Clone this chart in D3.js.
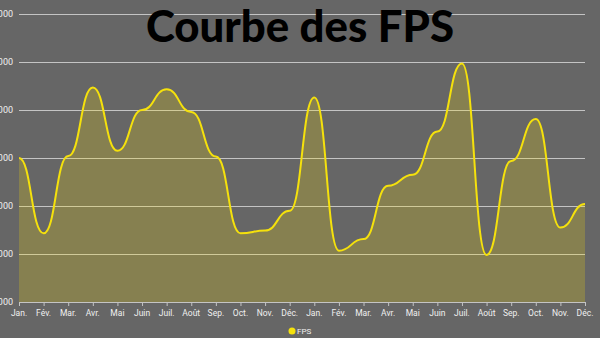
<!DOCTYPE html>
<html>
<head>
<meta charset="utf-8">
<script src="https://cdn.jsdelivr.net/npm/d3@7"></script>
<style>
  html, body { margin: 0; padding: 0; background: #666666; }
  svg { display: block; }
</style>
</head>
<body>
<svg id="chart" width="600" height="338"></svg>
<script>
const months = ["Jan.", "Fév.", "Mar.", "Avr.", "Mai", "Juin", "Juil.", "Août", "Sep.", "Oct.", "Nov.", "Déc.",
                "Jan.", "Fév.", "Mar.", "Avr.", "Mai", "Juin", "Juil.", "Août", "Sep.", "Oct.", "Nov.", "Déc."];
const fps = [4000, 2430, 4040, 5470, 4150, 5000, 5430, 4960, 4030, 2430, 2490, 2900,
             5260, 2070, 2310, 3420, 3650, 4550, 5970, 1980, 3940, 4810, 2550, 3040];
const yTicks = [1000, 2000, 3000, 4000, 5000, 6000, 7000];
const seriesName = "FPS";
const title = "Courbe des FPS";

(function () {
const W = 600, H = 338;
const svg = d3.select("#chart");
svg.append("rect").attr("width", W).attr("height", H).attr("fill", "#666666");

const pLeft = 19, pRight = 585, pTop = 14, pBottom = 302;
const x = d3.scalePoint().domain(d3.range(fps.length)).range([pLeft, pRight]);
const y = d3.scaleLinear().domain([1000, 7000]).range([pBottom, pTop]);

// grid lines
svg.append("g").selectAll("line").data(yTicks).join("line")
  .attr("x1", pLeft).attr("x2", pRight)
  .attr("y1", d => y(d) + 0.5).attr("y2", d => y(d) + 0.5)
  .attr("stroke", "#c4c4c4").attr("stroke-width", 1);

// y labels (partly cut off at the left)
svg.append("g").selectAll("text").data(yTicks).join("text")
  .attr("x", 13).attr("y", d => y(d) + 3)
  .attr("text-anchor", "end")
  .attr("font-family", "Roboto, sans-serif").attr("font-size", 9)
  .attr("fill", "#f0f0f0")
  .text(d => d);

// area + line
const area = d3.area().x((d, i) => x(i)).y0(pBottom).y1(d => y(d)).curve(d3.curveBumpX);
const line = d3.line().x((d, i) => x(i)).y(d => y(d)).curve(d3.curveBumpX);

svg.append("path").datum(fps).attr("d", area)
  .attr("fill", "rgba(255,226,0,0.21)");
svg.append("path").datum(fps).attr("d", line)
  .attr("fill", "none").attr("stroke", "#f5e10c").attr("stroke-width", 2);

// x axis
const xa = svg.append("g");
xa.append("line").attr("x1", pLeft).attr("x2", pRight).attr("y1", pBottom + 0.5).attr("y2", pBottom + 0.5)
  .attr("stroke", "#c4c4c4");
xa.selectAll("line.tick").data(months).join("line").attr("class", "tick")
  .attr("x1", (d, i) => x(i) + 0.5).attr("x2", (d, i) => x(i) + 0.5)
  .attr("y1", pBottom).attr("y2", pBottom + 4)
  .attr("stroke", "#c4c4c4");
xa.selectAll("text.lbl").data(months).join("text").attr("class", "lbl")
  .attr("x", (d, i) => x(i)).attr("y", 316)
  .attr("text-anchor", "middle")
  .attr("font-family", "Roboto, sans-serif").attr("font-size", 8.5)
  .attr("fill", "#f0f0f0")
  .text(d => d);

// title
const t = svg.append("text")
  .attr("x", 300).attr("y", 42)
  .attr("text-anchor", "middle")
  .attr("font-family", "Lato, sans-serif").attr("font-weight", 900)
  .attr("font-size", 40).attr("fill", "#000")
  .text(title);
const tw = t.node().getComputedTextLength();
t.attr("font-size", 40 * 308 / tw);

// legend
const lg = svg.append("g");
lg.append("circle").attr("cx", 292).attr("cy", 331).attr("r", 3.5).attr("fill", "#f5e10c");
lg.append("text").attr("x", 297).attr("y", 334)
  .attr("font-family", "Roboto, sans-serif").attr("font-size", 8)
  .attr("fill", "#f0f0f0").text(seriesName);
})();
</script>
</body>
</html>
